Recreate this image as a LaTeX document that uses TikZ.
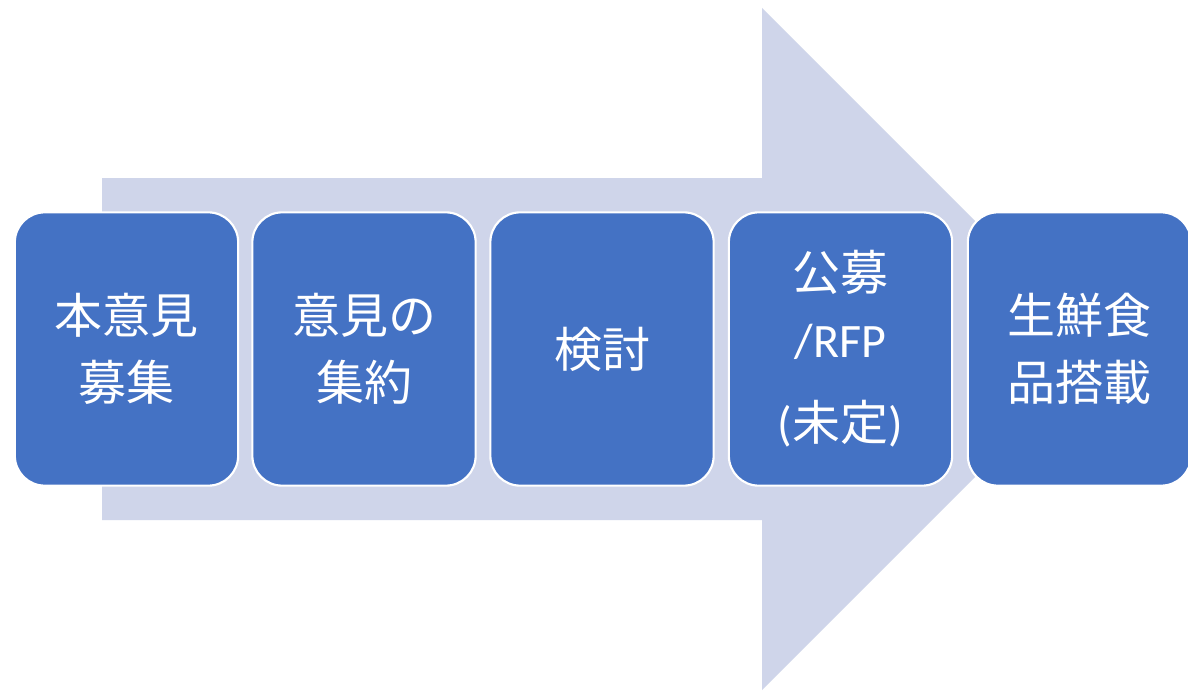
\documentclass[tikz,border=0pt]{standalone}
\usepackage{fontspec}
\setmainfont{Carlito}
\newfontfamily\cjk{Noto Sans CJK JP}
\definecolor{boxblue}{HTML}{4472C4}
\definecolor{arrowfill}{HTML}{CFD5EA}
\begin{document}
\begin{tikzpicture}[x=0.75pt,y=-0.75pt,
  stepbox/.style={rectangle, rounded corners=22.5pt, fill=boxblue, draw=white,
    line width=1.6pt, minimum width=167.5pt, minimum height=205pt, inner sep=0pt,
    text=white, align=center, font=\fontsize{36}{50.25}\selectfont}]
\clip (0,0) rectangle (1188,692);
\fill[white] (0,0) rectangle (1188,692);
\fill[arrowfill] (102,178) -- (762,178) -- (762,8) -- (1103,349) -- (762,690) -- (762,520) -- (102,520) -- cycle;
\node[stepbox] (b1) at (126.5,349) {\cjk 本意見\\\cjk 募集};
\node[stepbox] (b2) at (364,349) {\cjk 意見の\\\cjk 集約};
\node[stepbox] (b3) at (602,349) {\cjk 検討};
\node[stepbox] (b4) at (840.5,349) {\cjk 公募\\/RFP\\[12pt](\cjk 未定\normalfont)};
\node[stepbox] (b5) at (1079.5,349) {\cjk 生鮮食\\\cjk 品搭載};
\end{tikzpicture}
\end{document}
